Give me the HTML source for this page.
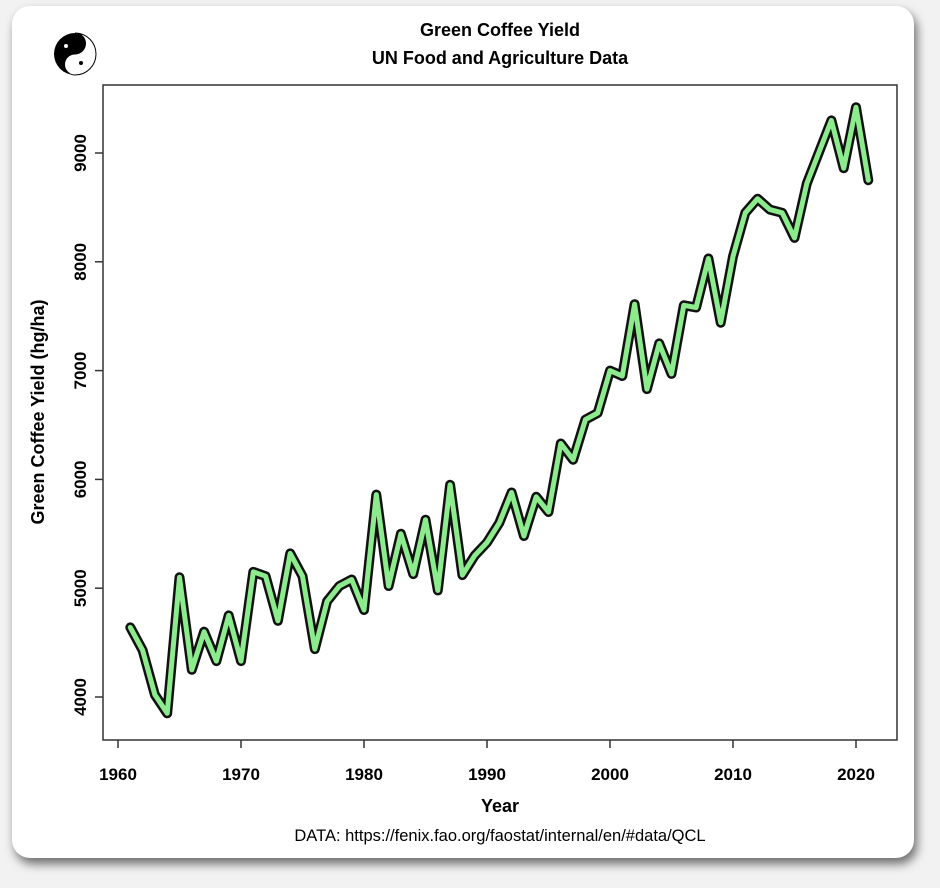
<!DOCTYPE html>
<html><head><meta charset="utf-8"><style>
body{margin:0;background:#f2f2f2;font-family:"Liberation Sans",sans-serif}
#card{position:absolute;left:12px;top:6px;width:902px;height:852px;background:#fff;border-radius:18px;box-shadow:3px 6px 10px rgba(0,0,0,.55)}
svg{position:absolute;left:0;top:0}
</style></head><body>
<div id="card"></div>
<svg id="chart" width="940" height="888">
<g>
<circle cx="75" cy="54" r="21" fill="#000"/>
<path d="M75 33 A21 21 0 0 1 75 75 A10.5 10.5 0 0 1 75 54 A10.5 10.5 0 0 0 75 33Z" fill="#fff" stroke="#000" stroke-width="1"/>
<circle cx="66" cy="46" r="2" fill="#fff"/><circle cx="81" cy="63" r="2" fill="#000"/>
</g>
<text x="500" y="36" text-anchor="middle" font-size="18" font-weight="bold">Green Coffee Yield</text>
<text x="500" y="64" text-anchor="middle" font-size="18" font-weight="bold">UN Food and Agriculture Data</text>
<rect x="103" y="85" width="794" height="655" fill="none" stroke="#333" stroke-width="1.5"/>
<g id="xaxis"></g>
<g id="yaxis"></g>
<g id="series"></g>
<text x="500" y="812" text-anchor="middle" font-size="18" font-weight="bold">Year</text>
<text transform="translate(44,412) rotate(-90)" text-anchor="middle" font-size="18" font-weight="bold">Green Coffee Yield (hg/ha)</text>
<text x="500" y="841" text-anchor="middle" font-size="16.5">DATA: https://fenix.fao.org/faostat/internal/en/#data/QCL</text>
</svg>
<script>
const years=[1961,1962,1963,1964,1965,1966,1967,1968,1969,1970,1971,1972,1973,1974,1975,1976,1977,1978,1979,1980,1981,1982,1983,1984,1985,1986,1987,1988,1989,1990,1991,1992,1993,1994,1995,1996,1997,1998,1999,2000,2001,2002,2003,2004,2005,2006,2007,2008,2009,2010,2011,2012,2013,2014,2015,2016,2017,2018,2019,2020,2021];
const yieldValues=[4640,4430,4020,3850,5100,4250,4600,4330,4750,4330,5150,5110,4700,5320,5110,4440,4880,5020,5080,4800,5860,5020,5500,5130,5630,4980,5950,5120,5300,5420,5600,5880,5480,5840,5700,6330,6180,6550,6610,7000,6950,7610,6830,7250,6970,7600,7580,8030,7440,8050,8450,8580,8480,8450,8220,8720,9010,9300,8860,9420,8750];
const xTicks=[1960,1970,1980,1990,2000,2010,2020];
const yTicks=[4000,5000,6000,7000,8000,9000];
const NS="http://www.w3.org/2000/svg";
const xs=y=>118+(y-1960)*(856-118)/60;
const ys=v=>697-(v-4000)*0.1088;
function mk(t,a,p){const e=document.createElementNS(NS,t);for(const k in a)e.setAttribute(k,a[k]);p.appendChild(e);return e;}
const xa=document.getElementById('xaxis'),ya=document.getElementById('yaxis'),sg=document.getElementById('series');
xTicks.forEach(t=>{
 const l=mk('line',{x1:xs(t),x2:xs(t),y1:740,y2:748,stroke:'#333','stroke-width':1.5},xa);
 
 
 const tx=mk('text',{x:xs(t),y:780,'text-anchor':'middle','font-size':17,'font-weight':'bold'},xa);
 tx.textContent=t;
 
 
});
yTicks.forEach(t=>{
 const l=mk('line',{x1:95,x2:103,y1:ys(t),y2:ys(t),stroke:'#333','stroke-width':1.5},ya);
 
 
 const tx=mk('text',{transform:`translate(86,${ys(t)}) rotate(-90)`,'text-anchor':'middle','font-size':17,'font-weight':'bold'},ya);
 tx.textContent=t;
 
 
});
const pts=years.map((y,i)=>xs(y).toFixed(1)+','+ys(yieldValues[i]).toFixed(1)).join(' ');
const o=mk('polyline',{points:pts,fill:'none',stroke:'#111','stroke-width':10,'stroke-linejoin':'round','stroke-linecap':'round'},sg);


const g=mk('polyline',{points:pts,fill:'none',stroke:'#8ceb8c','stroke-width':5,'stroke-linejoin':'round','stroke-linecap':'round'},sg);


</script>
</body></html>
